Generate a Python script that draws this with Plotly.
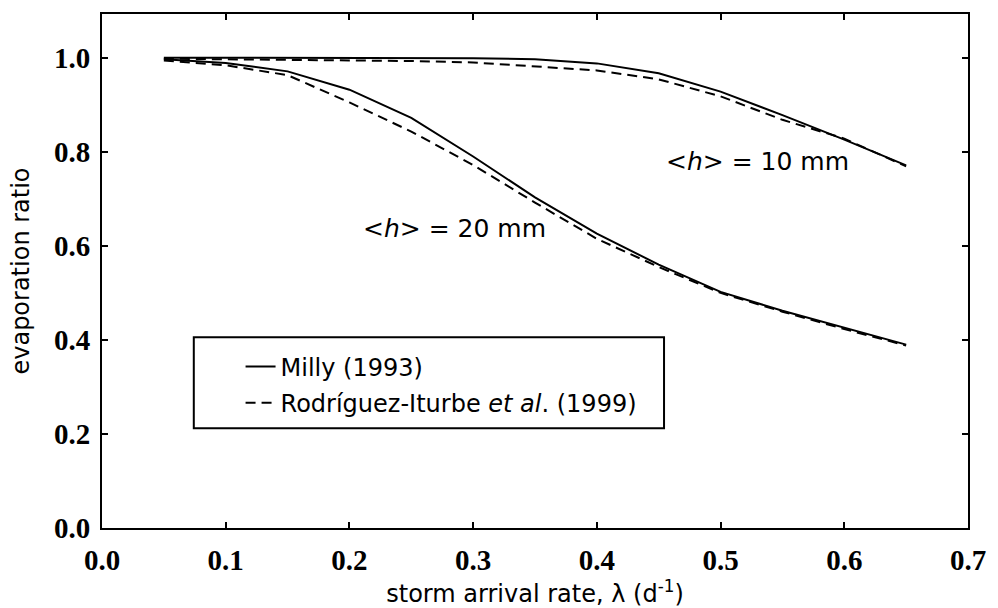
import plotly.graph_objects as go

# storm arrival rate (1/day)
lam = [0.05, 0.10, 0.15, 0.20, 0.25, 0.30, 0.35, 0.40, 0.45, 0.50, 0.55, 0.60, 0.65]

# evaporation ratio, <h> = 10 mm
milly_10 = [1.000, 1.000, 1.000, 1.000, 1.000, 0.999, 0.997, 0.988, 0.967, 0.928, 0.878, 0.826, 0.771]
rodr_10 = [0.998, 0.997, 0.996, 0.995, 0.993, 0.990, 0.982, 0.973, 0.954, 0.918, 0.868, 0.828, 0.769]

# evaporation ratio, <h> = 20 mm
milly_20 = [0.997, 0.989, 0.971, 0.932, 0.872, 0.790, 0.703, 0.626, 0.560, 0.502, 0.462, 0.426, 0.390]
rodr_20 = [0.994, 0.984, 0.963, 0.905, 0.843, 0.772, 0.692, 0.615, 0.555, 0.500, 0.460, 0.423, 0.388]

x_ticks = [0.0, 0.1, 0.2, 0.3, 0.4, 0.5, 0.6, 0.7]
y_ticks = [0.0, 0.2, 0.4, 0.6, 0.8, 1.0]

SANS = "DejaVu Sans"
SERIF = "Liberation Serif"

fig = go.Figure()

solid = dict(color="black", width=2)
dashed = dict(color="black", width=2, dash="10px,6px")

fig.add_trace(go.Scatter(x=lam, y=milly_20, mode="lines", line=solid,
                         name="Milly (1993)", legendgroup="m"))
fig.add_trace(go.Scatter(x=lam, y=rodr_20, mode="lines", line=dashed,
                         name="Rodríguez-Iturbe <i>et al</i>. (1999)", legendgroup="r"))
fig.add_trace(go.Scatter(x=lam, y=milly_10, mode="lines", line=solid,
                         showlegend=False, legendgroup="m"))
fig.add_trace(go.Scatter(x=lam, y=rodr_10, mode="lines", line=dashed,
                         showlegend=False, legendgroup="r"))

axis_common = dict(
    showline=True, linecolor="black", linewidth=2, mirror="ticks",
    ticks="inside", ticklen=6, tickwidth=1.5, tickcolor="black",
    showgrid=False, zeroline=False,
    tickfont=dict(family=SERIF, size=29, color="black", weight=600),
)

fig.update_xaxes(
    range=[0, 0.7], tickvals=x_ticks, ticktext=[f"{v:.1f}" for v in x_ticks],
    title=dict(text="storm arrival rate, λ (d<sup>-1</sup>)",
               font=dict(family=SANS, size=24, color="black"), standoff=2),
    ticklabelstandoff=5,
    **axis_common,
)
fig.update_yaxes(
    range=[0, 1.093], tickvals=y_ticks, ticktext=[f"{v:.1f}" for v in y_ticks],
    title=dict(text="evaporation ratio",
               font=dict(family=SANS, size=24, color="black"), standoff=18),
    ticklabelstandoff=4,
    **axis_common,
)

fig.add_annotation(x=0.285, y=0.636, xref="x", yref="y", showarrow=False,
                   text="&lt;<i>h</i>&gt; = 20 mm",
                   font=dict(family=SANS, size=25, color="black"))
fig.add_annotation(x=0.530, y=0.780, xref="x", yref="y", showarrow=False,
                   text="&lt;<i>h</i>&gt; = 10 mm",
                   font=dict(family=SANS, size=25, color="black"))

# legend frame
fig.add_shape(type="rect", xref="paper", yref="paper",
              x0=0.106, x1=0.649, y0=0.194, y1=0.371,
              line=dict(color="black", width=2), fillcolor="white", layer="below")

fig.update_layout(
    width=998, height=608,
    margin=dict(l=102, r=21, t=14, b=80),
    plot_bgcolor="white", paper_bgcolor="white",
    showlegend=True,
    legend=dict(x=0.16, y=0.357, xanchor="left", yanchor="top",
                bgcolor="rgba(0,0,0,0)", borderwidth=0,
                font=dict(family=SANS, size=24, color="black"),
                tracegroupgap=2),
)

fig.write_html("out.html")
